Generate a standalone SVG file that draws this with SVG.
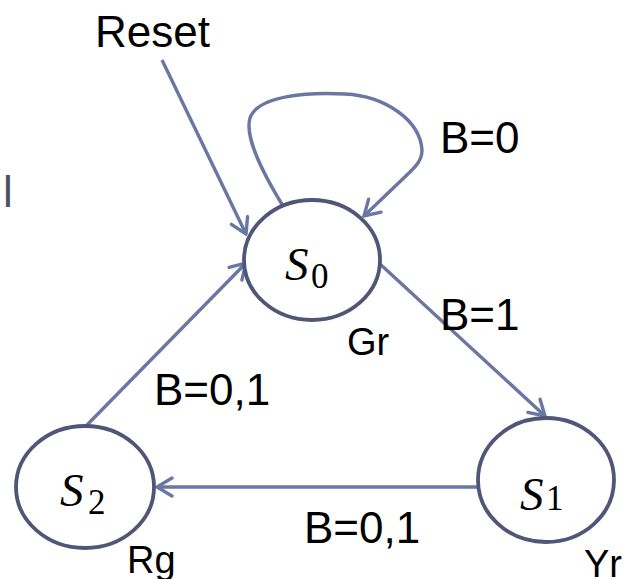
<svg xmlns="http://www.w3.org/2000/svg" width="627" height="579" viewBox="0 0 627 579">
<style>
.st{fill:#fff;stroke:#4f5677;stroke-width:3.8}
.ed{fill:none;stroke:#6b77a3;stroke-width:3.4;marker-end:url(#ah)}
.lb{font-family:"Liberation Sans",Arial,sans-serif;fill:#000}
.sm{font-family:"Liberation Serif","DejaVu Serif",serif;font-style:italic;font-size:47px;fill:#000}
.sb{font-family:"Liberation Serif","DejaVu Serif",serif;font-size:35px;fill:#000}
</style>
<defs>
<marker id="ah" markerUnits="userSpaceOnUse" viewBox="-18 -11 20 22" refX="0" refY="0" markerWidth="20" markerHeight="22" orient="auto">
<path d="M-15,-9 L0,0 L-15,9" fill="none" stroke="#6b77a3" stroke-width="3.4" stroke-linecap="round"/>
</marker>
</defs>
<g id="connectors">
<path class="ed" d="M162,60 L246,234"/>
<path class="ed" d="M283,206 C258,165 245,135 250,118 C258,95 310,92 345,94 C385,96 420,120 422,150 C422,160 416,166 410,172 L364,216"/>
<path class="ed" d="M380,264 L545,416"/>
<path class="ed" d="M478,487 L157,487"/>
<path class="ed" d="M86,426 L246,263"/>
</g>
<g id="S0">
<ellipse class="st" cx="312" cy="260" rx="68" ry="60"/>
<text x="285" y="280" class="sm">S</text><text x="311" y="288" class="sb">0</text>
</g>
<g id="S1">
<ellipse class="st" cx="546" cy="480" rx="68" ry="62"/>
<text x="520" y="510" class="sm">S</text><text x="546" y="510" class="sb">1</text>
</g>
<g id="S2">
<ellipse class="st" cx="85" cy="487" rx="69" ry="61"/>
<text x="60" y="506" class="sm">S</text><text x="88" y="514" class="sb">2</text>
</g>
<g id="labels">
<text x="95" y="47" class="lb" font-size="44">Reset</text>
<text x="440" y="153" class="lb" font-size="44">B=0</text>
<text x="440" y="330" class="lb" font-size="44">B=1</text>
<text x="154" y="405" class="lb" font-size="44">B=0,1</text>
<text x="304" y="543" class="lb" font-size="44">B=0,1</text>
<text x="347" y="355" class="lb" font-size="38">Gr</text>
<text x="127" y="573" class="lb" font-size="38">Rg</text>
<text x="584" y="577" class="lb" font-size="38">Yr</text>
<text x="3" y="207" class="lb" font-size="44" style="fill:#4e5066">l</text>
</g>
</svg>
